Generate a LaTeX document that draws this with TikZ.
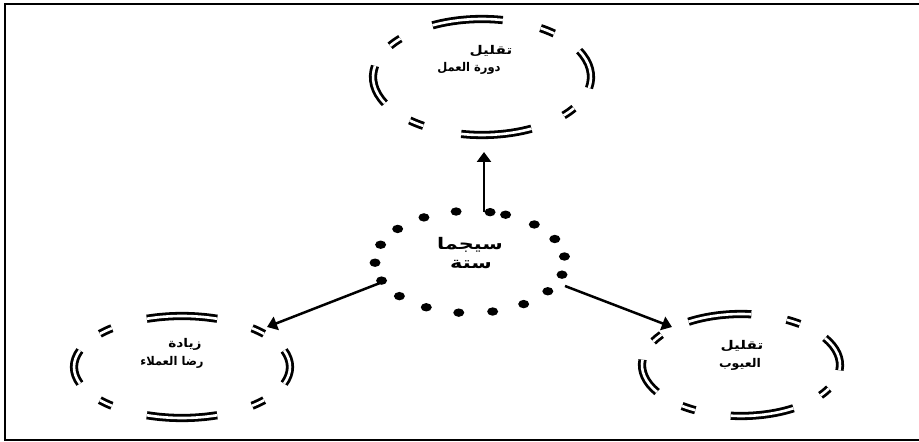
\documentclass[tikz,border=0pt]{standalone}
\usepackage{fontspec}
\usetikzlibrary{arrows.meta,calc}
\TeXXeTstate=1
\newfontfamily\arabicfont[Script=Arabic]{DejaVu Sans}

\tikzset{
  x=1pt, y=1pt,
  ringline/.style={draw=black, double=white, double distance=2.6pt, line width=2.8pt},
  frameline/.style={draw=black, line width=2pt},
  arrowline/.style={draw=black, line width=2.5pt, -{Triangle[length=10pt,width=14pt]}},
  lbl/.style={font=\arabicfont\bfseries\fontsize{12}{14}\selectfont, inner sep=0pt},
  biglbl/.style={font=\arabicfont\bfseries\fontsize{16}{18}\selectfont, inner sep=0pt},
}

% ring: cx, cy, rx, ry, offset
\newcommand\myring[5]{%
  \foreach \k in {0,1,2,3}{%
    \pgfmathsetmacro\aa{#5+90*\k-19}%
    \pgfmathsetmacro\bb{#5+90*\k+19}%
    \draw[ringline] ($(#1,#2)+(\aa:#3pt and #4pt)$) arc[start angle=\aa, end angle=\bb, x radius=#3pt, y radius=#4pt];
    \pgfmathsetmacro\cc{#5+90*\k+45-4.5}%
    \pgfmathsetmacro\dd{#5+90*\k+45+4.5}%
    \draw[ringline] ($(#1,#2)+(\cc:#3pt and #4pt)$) arc[start angle=\cc, end angle=\dd, x radius=#3pt, y radius=#4pt];
  }%
}

\begin{document}
\begin{tikzpicture}
\useasboundingbox (0,0) rectangle (919,442);
\fill[white] (0,0) rectangle (919,442);
\draw[frameline] (5,1.5) rectangle (930,437.7);

% rings
\myring{482}{365}{109}{58}{8}
\myring{182}{75}{108}{51}{0}
\myring{741}{77}{99}{51}{13}

% dotted centre
\foreach \k in {0,...,17}{%
  \pgfmathsetmacro\ang{68-20.6*\k}%
  \fill ($(470,180)+(\ang:95pt and 51pt)$) ellipse [x radius=5.5pt, y radius=4.2pt];
}

% arrow end points
\coordinate (cUp) at (484,230);
\coordinate (tUp) at (484,290);
\coordinate (cLeft) at (380,159);
\coordinate (tLeft) at (267,115);
\coordinate (cRight) at (565,156);
\coordinate (tRight) at (672,115);
\draw[arrowline] (cUp) -- (tUp);
\draw[arrowline] (cLeft) -- (tLeft);
\draw[arrowline] (cRight) -- (tRight);

% texts
\node[lbl] (topA) at (491,391) {\scalebox{1.27}[1]{\beginR تقليل\endR}};
\node[lbl] (topB) at (469,374) {\scalebox{0.96}[1]{\beginR دورة العمل\endR}};
\node[biglbl] (cenA) at (470,197) {\scalebox{1.3}[1]{\beginR سيجما\endR}};
\node[biglbl] (cenB) at (471,177) {\scalebox{1.3}[1]{\beginR ستة\endR}};
\node[lbl] (leftA) at (185,98) {\scalebox{1.14}[1]{\beginR زيادة\endR}};
\node[lbl] (leftB) at (172,80) {\scalebox{0.96}[1]{\beginR رضا العملاء\endR}};
\node[lbl] (rightA) at (742,96) {\scalebox{1.27}[1]{\beginR تقليل\endR}};
\node[lbl] (rightB) at (740,78) {\scalebox{1.05}[1]{\beginR العيوب\endR}};
\end{tikzpicture}
\end{document}
